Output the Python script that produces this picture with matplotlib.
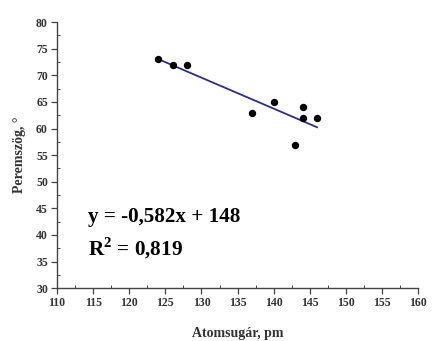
import numpy as np
import matplotlib.pyplot as plt
from matplotlib.ticker import MultipleLocator

# atomic radius (pm) vs contact angle (deg)
radius = [124, 126, 128, 137, 140, 143, 144, 144, 146]
angle = [73, 72, 72, 63, 65, 57, 64, 62, 62]

eq_text = 'y = -0,582x + 148'
r2_text = r'R$^\mathbf{2}$ = 0,819'

plt.rcParams['font.family'] = 'Liberation Serif'
plt.rcParams['mathtext.fontset'] = 'custom'
plt.rcParams['mathtext.rm'] = 'Liberation Serif'
plt.rcParams['mathtext.bf'] = 'Liberation Serif:bold'

fig = plt.figure(figsize=(4.32, 3.41), dpi=100)
ax = fig.add_axes([0.132, 0.155, 0.836, 0.78])

x = np.array(radius)
y = np.array(angle)
slope, icpt = np.polyfit(x, y, 1)
xl = np.array([x.min(), x.max()])
ax.plot(xl, slope * xl + icpt, color='#2e2e86', linewidth=1.3, zorder=2)
ax.plot(x, y, 'o', color='black', markersize=4.3, zorder=3)

ax.set_xlim(110, 160)
ax.set_ylim(30, 80)
ax.xaxis.set_major_locator(MultipleLocator(5))
ax.xaxis.set_minor_locator(MultipleLocator(2.5))
ax.yaxis.set_major_locator(MultipleLocator(5))
ax.yaxis.set_minor_locator(MultipleLocator(2.5))
ax.spines['top'].set_visible(False)
ax.spines['right'].set_visible(False)
for s in ('left', 'bottom'):
    ax.spines[s].set_color('#444444')
    ax.spines[s].set_linewidth(1.0)
ax.tick_params(which='major', direction='out', length=4.5, width=0.9,
               color='#444444', labelsize=8.5, labelcolor='#333333', pad=2)
ax.tick_params(which='minor', direction='in', length=2.5, width=0.7, color='#444444')
for lab in ax.get_xticklabels() + ax.get_yticklabels():
    lab.set_fontweight('bold')

ax.set_xlabel('Atomsugár, pm', fontsize=10, fontweight='bold', color='#333333', labelpad=13)
ax.set_ylabel('Peremszög, °', fontsize=10, fontweight='bold', color='#333333', labelpad=7)

ax.text(0.085, 0.25, eq_text, transform=ax.transAxes, fontsize=15.2,
        fontweight='bold', color='black')
ax.text(0.085, 0.125, r2_text, transform=ax.transAxes, fontsize=15.2,
        fontweight='bold', color='black')

fig.savefig('out.png', dpi=100)
